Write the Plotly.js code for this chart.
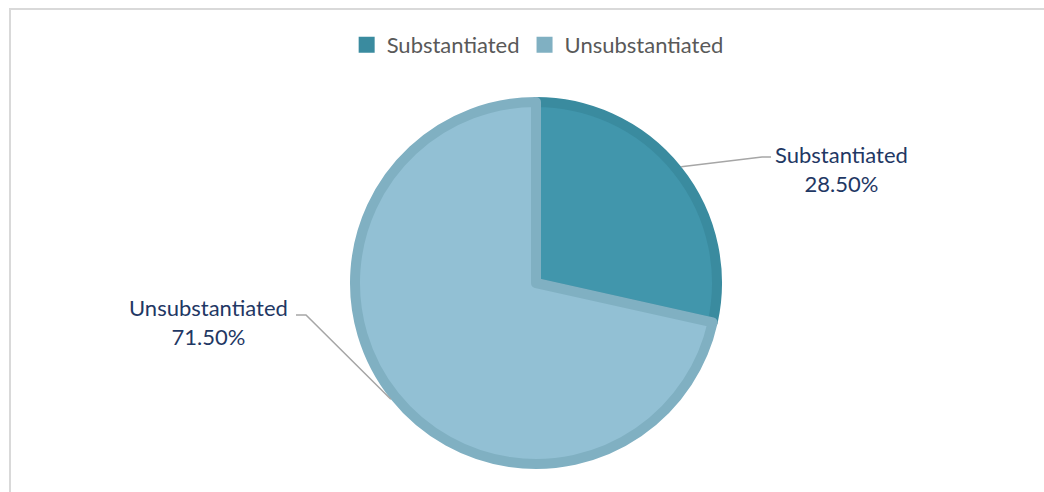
<!DOCTYPE html>
<html><head><meta charset="utf-8">
<script src="https://cdn.plot.ly/plotly-3.0.1.min.js"></script>
<style>body{margin:0;background:#fff}#chart{width:1044px;height:492px}</style>
</head><body><div id="chart"></div>
<script>
const labels = ['Substantiated', 'Unsubstantiated'];
const values = [28.5, 71.5];
const fillColors = ['#4196ac', '#92c0d4'];
const lineColors = ['#3a8b9f', '#80b0c2'];

const W = 1044, H = 492;
const cx = 536, cy = 283, r = 181;
const px = x => x / W;
const py = y => 1 - y / H;
const FONT = 'Lato, "Open Sans", sans-serif';

// label positions (layout) and elbow points
const labelPos = [{x: 841, y: 169, elbowX: 762, elbowY: 157, endX: 771}, {x: 208, y: 322, elbowX: 306, elbowY: 315, endX: 296}];

const total = values.reduce((a, b) => a + b, 0);
let cum = 0;
const shapes = [{type: 'rect', xref: 'paper', yref: 'paper', x0: px(10), x1: px(1060), y0: py(530), y1: py(9), line: {color: '#d9d9d9', width: 2}, fillcolor: 'rgba(0,0,0,0)'}];
const annotations = [];
values.forEach((v, i) => {
  const mid = (cum + v / 2) / total * 2 * Math.PI;
  cum += v;
  const ex = cx + (r + 5) * Math.sin(mid);
  const ey = cy - (r + 5) * Math.cos(mid);
  const L = labelPos[i];
  shapes.push({type: 'path', xref: 'paper', yref: 'paper',
    path: `M ${px(ex)} ${py(ey)} L ${px(L.elbowX)} ${py(L.elbowY)} L ${px(L.endX)} ${py(L.elbowY)}`,
    line: {color: '#a6a6a6', width: 1.5}});
  annotations.push({xref: 'paper', yref: 'paper', x: px(L.x), y: py(L.y), xanchor: 'center', yanchor: 'middle',
    showarrow: false, align: 'center',
    text: labels[i] + '<br>' + v.toFixed(2) + '%',
    font: {family: FONT, size: 22, color: '#1f3864'}});
});

const pie = {
  type: 'pie', labels: labels, values: values, sort: false, direction: 'clockwise', rotation: 0,
  textinfo: 'none', hoverinfo: 'label+percent', showlegend: false,
  marker: {colors: fillColors, line: {color: lineColors, width: 10}},
  domain: {x: [px(cx - r), px(cx + r)], y: [py(cy + r), py(cy - r)]}
};
const legendTraces = labels.map((l, i) => ({
  type: 'scatter', mode: 'markers', x: [null], y: [null], name: l, showlegend: true,
  marker: {symbol: 'square', size: 16, color: lineColors[i]}
}));

const layout = {
  width: W, height: H, margin: {l: 0, r: 0, t: 0, b: 0},
  paper_bgcolor: '#fff', plot_bgcolor: 'rgba(0,0,0,0)',
  xaxis: {visible: false}, yaxis: {visible: false},
  showlegend: true,
  legend: {orientation: 'h', x: 0.515, xanchor: 'center', y: py(45), yanchor: 'middle', itemwidth: 30,
    font: {family: FONT, size: 22, color: '#595959'}},
  shapes: shapes, annotations: annotations
};
Plotly.newPlot('chart', [pie].concat(legendTraces), layout, {displayModeBar: false, staticPlot: true});
</script></body></html>
